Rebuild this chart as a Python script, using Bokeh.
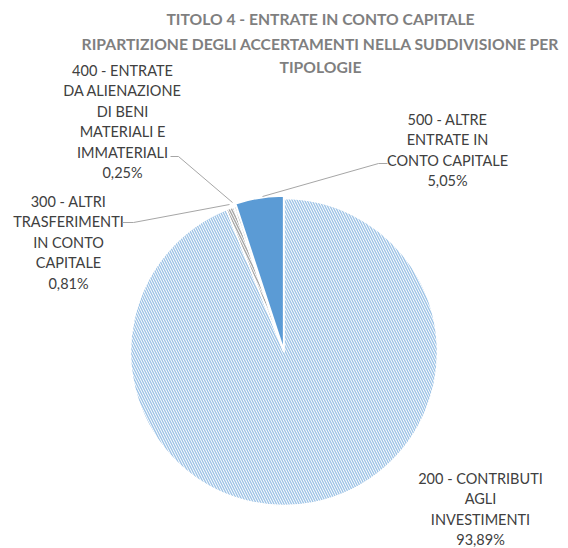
import math
from bokeh.plotting import figure
from bokeh.models import Range1d, ColumnDataSource
from bokeh.core.properties import value
from bokeh.embed import file_html
from bokeh.resources import INLINE

# ---- data ----
categories = ["200", "300", "400", "500"]
shares = [93.89, 0.81, 0.25, 5.05]
label_names = [
    ["200 - CONTRIBUTI", "AGLI", "INVESTIMENTI"],
    ["300 - ALTRI", "TRASFERIMENTI", "IN CONTO", "CAPITALE"],
    ["400 - ENTRATE", "DA ALIENAZIONE", "DI BENI", "MATERIALI E", "IMMATERIALI"],
    ["500 - ALTRE", "ENTRATE IN", "CONTO CAPITALE"],
]
title_lines = [
    "TITOLO 4 - ENTRATE IN CONTO CAPITALE",
    "RIPARTIZIONE DEGLI ACCERTAMENTI NELLA SUDDIVISIONE PER",
    "TIPOLOGIE",
]

# ---- styles / layout ----
W, H = 568, 548
fill_colors = ["white", "white", "white", "#5B9BD5"]
hatch_colors = ["#9DC3E6", "#A5A5A5", "#C9C9C9", None]
hatch_patterns = ["\\", "\\", "\\", " "]
explode = [0, 0, 0, 2.5]
cx, cy_pix, R = 283.5, 351.5, 153.5
label_anchor = [(480, 478), (68, 201), (122, 70), (447, 119)]  # center x, first line y (page px)
line_h = 20.4
label_font = value("Lato")
label_color = "#404040"


def Y(py):
    return H - py


p = figure(width=W, height=H, x_range=Range1d(0, W), y_range=Range1d(0, H),
           output_backend="svg", toolbar_location=None, min_border=0,
           outline_line_color=None)
p.axis.visible = False
p.grid.visible = False

total = sum(shares)
cum = 0.0
for i, s in enumerate(shares):
    a0 = math.pi / 2 - cum / total * 2 * math.pi
    cum += s
    a1 = math.pi / 2 - cum / total * 2 * math.pi
    mid = (a0 + a1) / 2
    ox = cx + explode[i] * math.cos(mid)
    oy = Y(cy_pix) + explode[i] * math.sin(mid)
    kw = dict(x=ox, y=oy, radius=R, radius_units="screen", start_angle=a0, end_angle=a1,
              direction="clock", fill_color=fill_colors[i], line_color="white", line_width=1.5)
    if hatch_colors[i]:
        kw.update(hatch_pattern=hatch_patterns[i], hatch_color=hatch_colors[i],
                  hatch_scale=5.0, hatch_weight=1.4)
    p.wedge(**kw)

# labels
xs, ys, txt = [], [], []
for i, names in enumerate(label_names):
    lx, ly = label_anchor[i]
    lines = names + [("%.2f" % shares[i]).replace(".", ",") + "%"]
    for j, t in enumerate(lines):
        xs.append(lx)
        ys.append(Y(ly + j * line_h))
        txt.append(t)
src = ColumnDataSource(dict(x=xs, y=ys, text=txt))
p.text(x="x", y="y", text="text", source=src, text_font=label_font, text_font_size="14.5px",
       text_color=label_color, text_align="center", text_baseline="middle")

# title
tsrc = ColumnDataSource(dict(x=[320, 320, 320], y=[Y(18), Y(43), Y(66)], text=title_lines))
p.text(x="x", y="y", text="text", source=tsrc, text_font=label_font, text_font_style="bold",
       text_font_size="15.7px", text_color="#7F7F7F", text_align="center", text_baseline="middle")

# leader lines
leaders = [
    ([170, 178, 232], [156, 156, 202]),
    ([122, 133, 229], [222, 222, 204]),
    ([387, 378, 262], [163, 163, 196]),
]
for lx, ly in leaders:
    p.line(lx, [Y(v) for v in ly], line_color="#A6A6A6", line_width=1)

open("out.html", "w").write(file_html(p, INLINE))
